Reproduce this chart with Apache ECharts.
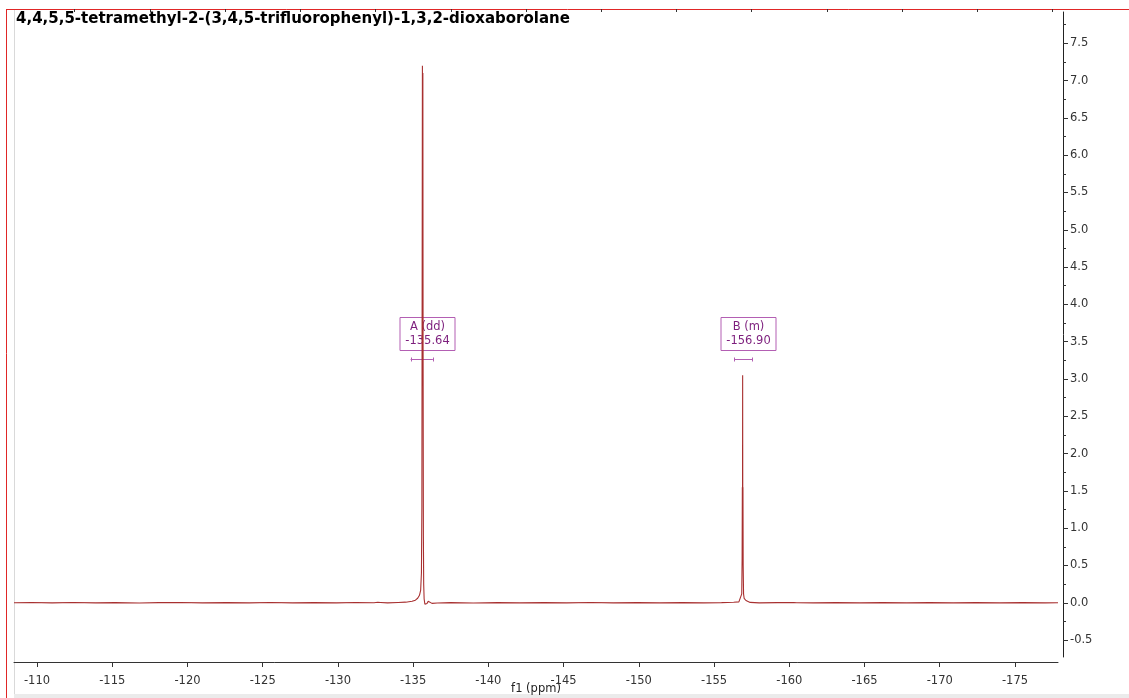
<!DOCTYPE html>
<html>
<head>
<meta charset="utf-8">
<script src="https://cdn.jsdelivr.net/npm/echarts@6/dist/echarts.min.js"></script>
<style>
  html, body { margin: 0; padding: 0; background: #fff; }
  #chart { width: 1129px; height: 698px; }
</style>
</head>
<body>
<div id="chart"></div>
<script>
// 19F NMR spectrum: [chemical shift (ppm), intensity]
const spectrum = [
  [-108.47, 0.0], [-109.6, 0.003], [-111.0, -0.002], [-112.4, 0.003], [-113.9, -0.002],
  [-115.2, 0.002], [-116.8, -0.003], [-118.1, 0.002], [-119.5, 0.003], [-121.0, -0.002],
  [-122.6, 0.002], [-124.1, -0.002], [-125.5, 0.003], [-127.0, -0.002], [-128.4, 0.002],
  [-129.9, -0.002], [-131.2, 0.003], [-132.4, 0.0], [-132.65, 0.006], [-132.74, 0.03],
  [-132.83, 0.004], [-133.3, -0.002], [-134.0, 0.004], [-134.5, 0.008], [-134.93, 0.02],
  [-135.15, 0.035], [-135.3, 0.06], [-135.42, 0.1], [-135.5, 0.17], [-135.55, 0.4],
  [-135.58, 1.3], [-135.60, 4.6], [-135.615, 7.2], [-135.63, 5.6], [-135.645, 7.1],
  [-135.66, 3.4], [-135.68, 0.9], [-135.70, 0.25], [-135.73, 0.05], [-135.78, -0.02],
  [-135.84, -0.025], [-135.92, -0.01], [-136.0, 0.02], [-136.06, 0.04], [-136.12, 0.01],
  [-136.25, -0.008], [-136.6, -0.004], [-137.5, 0.002], [-139.0, -0.003], [-140.6, 0.002],
  [-142.1, -0.002], [-143.7, 0.002], [-145.2, -0.002], [-146.8, 0.003], [-148.3, -0.002],
  [-149.9, 0.002], [-151.4, -0.002], [-152.9, 0.002], [-154.3, -0.002], [-155.5, 0.002],
  [-156.3, 0.006], [-156.65, 0.012], [-156.78, 0.03], [-156.84, 0.12], [-156.865, 0.6],
  [-156.88, 1.55], [-156.89, 1.0], [-156.90, 3.05], [-156.91, 1.0], [-156.92, 1.55],
  [-156.935, 0.5], [-156.96, 0.12], [-157.0, 0.06], [-157.05, 0.045], [-157.12, 0.03],
  [-157.22, 0.015], [-157.4, 0.005], [-158.0, -0.002], [-159.2, 0.002], [-160.3, 0.002],
  [-160.4, 0.015], [-160.5, 0.001], [-161.6, -0.002], [-163.1, 0.002], [-164.7, -0.002],
  [-166.2, 0.002], [-167.8, -0.002], [-169.3, 0.002], [-170.9, -0.002], [-172.4, 0.002],
  [-174.0, -0.002], [-175.5, 0.002], [-177.0, -0.002], [-177.86, 0.0]
];

// Multiplet annotations
const multipletNames = ['A (dd)', 'B (m)'];
const multipletShifts = [-135.64, -156.90];
const multipletRanges = [[-134.83, -136.31], [-156.34, -157.54]];

// Axis ticks
const xMajorTicks = [-110, -115, -120, -125, -130, -135, -140, -145, -150, -155, -160, -165, -170, -175];
const xMinorTicks = [-112.5, -117.5, -122.5, -127.5, -132.5, -137.5, -142.5, -147.5, -152.5, -157.5, -162.5, -167.5, -172.5, -177.5];
const yMajorTicks = [-0.5, 0.0, 0.5, 1.0, 1.5, 2.0, 2.5, 3.0, 3.5, 4.0, 4.5, 5.0, 5.5, 6.0, 6.5, 7.0, 7.5];
const yMinorTicks = [-0.25, 0.25, 0.75, 1.25, 1.75, 2.25, 2.75, 3.25, 3.75, 4.25, 4.75, 5.25, 5.75, 6.25, 6.75, 7.25, 7.75];

const titleText = '4,4,5,5-tetramethyl-2-(3,4,5-trifluorophenyl)-1,3,2-dioxaborolane';

// axis ranges
const X_LEFT = -108.47, X_RIGHT = -177.86;
const Y_TOP = 7.919, Y_BOTTOM_DATA = -0.794, Y_BOTTOM_AXIS = -0.727;

const FONT = '"DejaVu Sans", Verdana, sans-serif';
const LINE_COLOR = '#a83030';

const chart = echarts.init(document.getElementById('chart'), null, { renderer: 'canvas' });

function fmtShift(v) { return v.toFixed(2); }

const option = {
  animation: false,
  backgroundColor: '#ffffff',
  title: {
    text: titleText,
    left: 14, top: 12, padding: [0, 0, 0, 2],
    textStyle: { fontFamily: FONT, fontSize: 15, fontWeight: 'bold', color: '#000' }
  },
  grid: [
    { left: 14, right: 71, top: 12, bottom: 36, containLabel: false, outerBoundsMode: 'none' },
    { left: 14, right: 66, top: 12, bottom: 41, containLabel: false, outerBoundsMode: 'none' }
  ],
  xAxis: [
    {
      type: 'value', gridIndex: 0, inverse: true, min: X_RIGHT, max: X_LEFT,
      name: 'f1 (ppm)', nameLocation: 'middle', nameGap: 21, nameMoveOverlap: false,
      nameTextStyle: { fontFamily: FONT, fontSize: 11.5, color: '#222' },
      axisLine: { show: true, onZero: false, lineStyle: { color: '#333', width: 1 } },
      axisTick: { show: true, length: 5, inside: false, customValues: xMajorTicks, lineStyle: { color: '#333' } },
      axisLabel: { show: true, customValues: xMajorTicks, margin: 13, fontFamily: FONT, fontSize: 11.5, color: '#333' },
      splitLine: { show: false }
    },
    {
      type: 'value', gridIndex: 1, inverse: true, min: X_RIGHT, max: X_LEFT, show: false
    },
    {
      type: 'value', gridIndex: 0, inverse: true, min: X_RIGHT, max: X_LEFT,
      axisLine: { show: false, onZero: false },
      axisTick: { show: true, length: 3, customValues: xMinorTicks, lineStyle: { color: '#333' } },
      axisLabel: { show: false },
      splitLine: { show: false }
    }
  ],
  yAxis: [
    {
      type: 'value', gridIndex: 0, min: Y_BOTTOM_DATA, max: Y_TOP, show: false
    },
    {
      type: 'value', gridIndex: 1, position: 'right', offset: 0, min: Y_BOTTOM_AXIS, max: Y_TOP,
      axisLine: { show: true, onZero: false, lineStyle: { color: '#222', width: 1 } },
      axisTick: { show: true, length: 5, customValues: yMajorTicks, lineStyle: { color: '#333' } },
      axisLabel: {
        show: true, customValues: yMajorTicks, margin: 7, fontFamily: FONT, fontSize: 11.5, color: '#333',
        formatter: v => v.toFixed(1)
      },
      splitLine: { show: false }
    },
    {
      type: 'value', gridIndex: 1, position: 'right', offset: 0, min: Y_BOTTOM_AXIS, max: Y_TOP,
      axisLine: { show: false, onZero: false },
      axisTick: { show: true, length: 3, customValues: yMinorTicks, lineStyle: { color: '#333' } },
      axisLabel: { show: false },
      splitLine: { show: false }
    }
  ],
  graphic: [
    // outer frame
    { type: 'line', shape: { x1: 6, y1: 9.5, x2: 1129, y2: 9.5 }, style: { stroke: '#e02626', lineWidth: 1 }, silent: true },
    { type: 'line', shape: { x1: 6.5, y1: 9, x2: 6.5, y2: 698 }, style: { stroke: '#e02626', lineWidth: 1 }, silent: true },
    { type: 'line', shape: { x1: 14.5, y1: 10, x2: 14.5, y2: 694 }, style: { stroke: '#d9d9d9', lineWidth: 1 }, silent: true },
    { type: 'rect', shape: { x: 14, y: 694, width: 1115, height: 4 }, style: { fill: '#ebebeb' }, silent: true }
  ],
  series: [
    {
      type: 'custom',
      xAxisIndex: 0, yAxisIndex: 0,
      silent: true,
      z: 1,
      data: multipletRanges.map(r => [r[0], r[1]]),
      renderItem: function (params, api) {
        const i = params.dataIndex;
        const from = multipletRanges[i][0], to = multipletRanges[i][1];
        const BOX_TOP = 3.83, BRACKET_Y = 3.27;
        const pFrom = api.coord([from, BRACKET_Y]);
        const pTo = api.coord([to, BRACKET_Y]);
        const by = Math.round(pFrom[1]) + 0.5;
        const cx = Math.round((pFrom[0] + pTo[0]) / 2 + 5);
        const top = Math.round(api.coord([from, BOX_TOP])[1]) + 0.5;
        const w = 55, h = 33;
        const purple = '#b35fb3';
        return {
          type: 'group',
          children: [
            { type: 'rect', shape: { x: cx - w / 2 + 0.5, y: top, width: w, height: h },
              style: { fill: null, stroke: purple, lineWidth: 1 } },
            { type: 'text', style: {
                text: multipletNames[i] + '\n' + fmtShift(multipletShifts[i]),
                x: cx + 0.5, y: top + h / 2 + 0.5, align: 'center', verticalAlign: 'middle',
                fill: '#7d1f7d', fontFamily: FONT, fontSize: 11.5, lineHeight: 14 } },
            { type: 'line', shape: { x1: pFrom[0], y1: by, x2: pTo[0], y2: by },
              style: { stroke: purple, lineWidth: 1 } },
            { type: 'line', shape: { x1: Math.round(pFrom[0]) + 0.5, y1: by - 2, x2: Math.round(pFrom[0]) + 0.5, y2: by + 2 },
              style: { stroke: purple, lineWidth: 1 } },
            { type: 'line', shape: { x1: Math.round(pTo[0]) + 0.5, y1: by - 2, x2: Math.round(pTo[0]) + 0.5, y2: by + 2 },
              style: { stroke: purple, lineWidth: 1 } }
          ]
        };
      }
    },
    {
      type: 'line',
      xAxisIndex: 0, yAxisIndex: 0,
      data: spectrum,
      showSymbol: false,
      symbol: 'none',
      sampling: null,
      silent: true,
      z: 3,
      lineStyle: { color: LINE_COLOR, width: 1.1 }
    }
  ]
};

chart.setOption(option);
</script>
</body>
</html>
